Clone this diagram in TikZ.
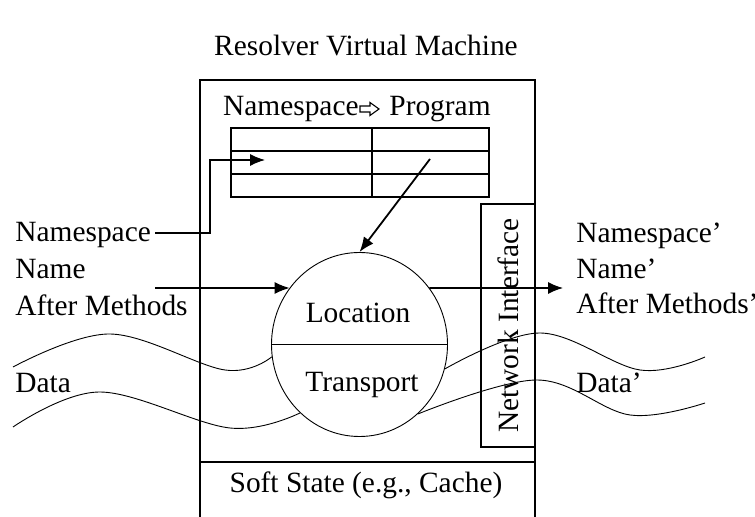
\documentclass[tikz,border=0pt]{standalone}
\usepackage{fontspec}
\setmainfont{Liberation Serif}
\usetikzlibrary{shapes,arrows.meta,positioning,calc}

\begin{document}
\begin{tikzpicture}[x=0.5pt, y=-0.5pt]
  \tikzstyle{txt}=[font=\fontsize{14.7}{17}\selectfont, inner sep=0]
  \tikzstyle{box}=[draw, line width=0.6pt]
  \tikzstyle{arr}=[line width=0.6pt, -{Latex[length=7.5pt,width=6pt]}]
  \tikzstyle{wave}=[line width=0.45pt]

  \useasboundingbox (0,0) rectangle (755,517);

  % Virtual machine frame
  \node[txt, anchor=base] (title) at (366,56) {Resolver Virtual Machine};
  \draw[line width=0.6pt] (200,517) |- (535,80) -- (535,517);
  \draw[line width=0.6pt] (200,462) -- (535,462);
  \node[txt, anchor=base] (soft) at (366,493) {Soft State (e.g., Cache)};

  % Namespace -> Program table
  \node[txt, anchor=base east] (nsHead) at (359,116) {Namespace};
  \draw[line width=0.55pt, line join=miter] (360,106) -- (370,106) -- (370,102.5) -- (379,109)
    -- (370,115.5) -- (370,112) -- (360,112) -- cycle;
  \node[txt, anchor=base west] (progHead) at (389,116) {Program};
  \node[box, inner sep=0, minimum width=129pt, minimum height=34.5pt] (tbl) at (360,162.5) {};
  \draw[line width=0.6pt] (231,151) -- (489,151);
  \draw[line width=0.6pt] (231,174) -- (489,174);
  \draw[line width=0.6pt] (372,128) -- (372,197);

  % Location / Transport
  \node[ellipse, draw, line width=0.45pt, inner sep=0, minimum width=88pt,
        minimum height=92pt] (circ) at (359.5,344.5) {};
  \draw[line width=0.6pt] (circ.west) -- (circ.east);
  \node[txt, anchor=base] (loc) at (358,323) {Location};
  \node[txt, anchor=base] (trans) at (362,392) {Transport};

  % Network interface
  \node[box, txt, rotate=90, minimum width=121.5pt, minimum height=27pt] (ni) at (508,325.5) {Network Interface};

  % Inputs
  \node[txt, anchor=base west] (nsL) at (15,242) {Namespace};
  \node[txt, anchor=base west] (nameL) at (15,279) {Name};
  \node[txt, anchor=base west] (methL) at (15,316) {After Methods};
  \node[txt, anchor=base west] (dataL) at (15,393) {Data};

  % Outputs
  \node[txt, anchor=base west] (nsR) at (576,243) {Namespace'};
  \node[txt, anchor=base west] (nameR) at (576,279) {Name'};
  \node[txt, anchor=base west] (methR) at (576,314) {After Methods'};
  \node[txt, anchor=base west] (dataR) at (576,393) {Data'};

  % Connectors
  \coordinate (nsIn) at (155,233);
  \coordinate (rowIn) at (265,160);
  \coordinate (nameIn) at (155,288);
  \coordinate (nameOut) at (563,288);
  \coordinate (progOut) at (430,159);
  \draw[arr] (nsIn) -- ++(55,0) |- (rowIn);
  \draw[arr] (nameIn) -- (nameIn -| circ.141);
  \draw[arr] (circ.39) -- (nameOut -| circ.39) -- (nameOut);
  \draw[arr, line width=0.9pt] (progOut) -- (circ.north);

  % Data waves
  \draw[wave] plot[smooth, tension=0.6] coordinates {(13,367) (110,334) (225,370) (circ.188.8)};
  \draw[wave] plot[smooth, tension=0.6] coordinates {(13,427) (100,392) (230,428) (circ.229.4)};
  \draw[wave] plot[smooth, tension=0.6] coordinates {(circ.344.6) (540,333) (640,370) (705,357)};
  \draw[wave] plot[smooth, tension=0.6] coordinates {(circ.310.6) (537,380) (630,415) (705,403)};
\end{tikzpicture}
\end{document}
